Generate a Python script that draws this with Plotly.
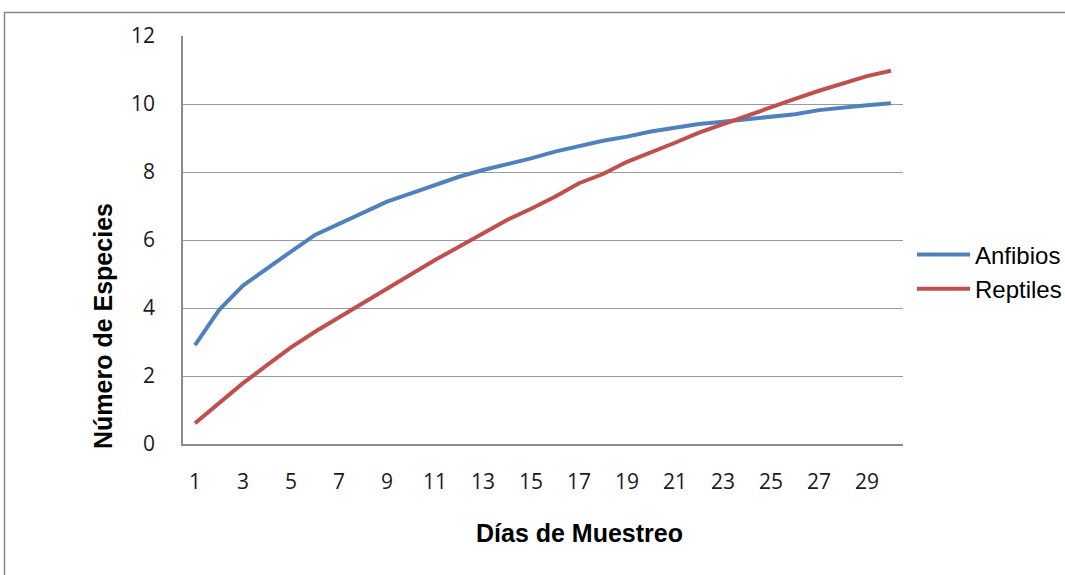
import plotly.graph_objects as go

dias = list(range(1, 31))
anfibios = [2.91, 3.94, 4.66, 5.17, 5.66, 6.15, 6.47, 6.80, 7.13, 7.37,
            7.62, 7.86, 8.06, 8.22, 8.40, 8.60, 8.76, 8.92, 9.04, 9.19,
            9.30, 9.41, 9.48, 9.56, 9.63, 9.70, 9.82, 9.90, 9.96, 10.02]
reptiles = [0.61, 1.20, 1.79, 2.32, 2.84, 3.30, 3.72, 4.16, 4.55, 4.97,
            5.41, 5.80, 6.19, 6.59, 6.92, 7.27, 7.67, 7.94, 8.30, 8.57,
            8.86, 9.16, 9.41, 9.68, 9.90, 10.15, 10.39, 10.61, 10.82, 10.98]
x_ticks = list(range(1, 31, 2))
y_ticks = [0, 2, 4, 6, 8, 10, 12]

W, H = 1065, 575
L, R, T, B = 183, 903, 36, 444
pw, ph = R - L, B - T

def px(x):
    return (x - L) / pw

def py(y):
    return (B - y) / ph

fig = go.Figure()
fig.add_trace(go.Scatter(x=dias, y=anfibios, mode="lines", name="Anfibios",
                         line=dict(color="#4F81BD", width=4)))
fig.add_trace(go.Scatter(x=dias, y=reptiles, mode="lines", name="Reptiles",
                         line=dict(color="#C0504D", width=4)))

tickfont = dict(size=21, family="Open Sans, Liberation Sans, sans-serif", color="#1a1a1a")

fig.update_layout(
    width=W, height=H,
    margin=dict(l=L, r=W - R, t=T, b=H - B, autoexpand=False),
    paper_bgcolor="white", plot_bgcolor="white",
    font=dict(family="Liberation Sans, Arial, sans-serif", color="#000000"),
    showlegend=True,
    legend=dict(x=px(912), xanchor="left", y=py(272), yanchor="middle",
                font=dict(size=24, color="#000000"),
                itemwidth=53, bgcolor="rgba(0,0,0,0)",
                tracegroupgap=0),
    xaxis=dict(range=[0.5, 30.5], tickmode="array", tickvals=x_ticks,
               ticktext=[str(v) for v in x_ticks],
               showgrid=False, zeroline=False,
               showline=True, linecolor="#8c8c8c", linewidth=1.5,
               ticks="", ticklabelstandoff=18, tickfont=tickfont),
    yaxis=dict(range=[0, 12], tickmode="array", tickvals=y_ticks,
               showgrid=True, gridcolor="#9a9a9a", gridwidth=1.2,
               zeroline=False,
               showline=True, linecolor="#8c8c8c", linewidth=1.5,
               ticks="", ticklabelstandoff=22, tickfont=tickfont),
    annotations=[
        dict(text="<b>Número de Especies</b>", x=px(103), y=py(326),
             xref="paper", yref="paper", showarrow=False, textangle=-90,
             xanchor="center", yanchor="middle",
             font=dict(size=25, family="Liberation Sans, Arial, sans-serif")),
        dict(text="<b>Días de Muestreo</b>", x=px(579), y=py(533),
             xref="paper", yref="paper", showarrow=False,
             xanchor="center", yanchor="middle",
             font=dict(size=25, family="Liberation Sans, Arial, sans-serif")),
    ],
    shapes=[
        dict(type="rect", xref="paper", yref="paper",
             x0=px(4.5), x1=px(1075), y0=py(585), y1=py(12.5),
             line=dict(color="#8a8a8a", width=1.5), layer="below"),
    ],
)

fig.write_html("out.html",
               config={"displayModeBar": False},
               post_script="document.body.style.margin='0';document.body.style.overflow='hidden';")
